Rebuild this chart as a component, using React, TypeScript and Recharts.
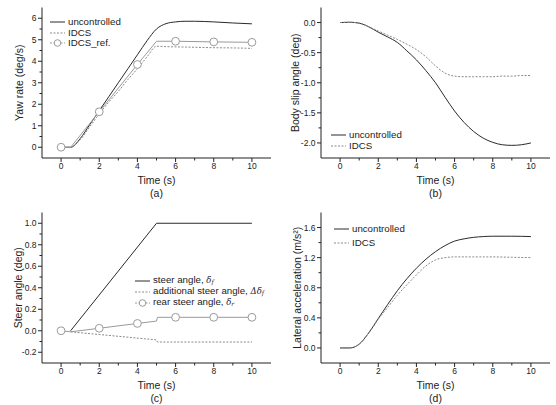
import React from 'react';
import { LineChart, Line, XAxis, YAxis, Label } from 'recharts';

// shared time axis
const timeTicks = [0, 1, 2, 3, 4, 5, 6, 7, 8, 9, 10];
const timeLabels = [0, 2, 4, 6, 8, 10];

// (a) yaw rate
const yawT = [0, 0.5, 1, 1.5, 2, 2.5, 3, 3.5, 4, 4.5, 5, 5.5, 6, 6.5, 7, 8, 9, 10];
const yawUncontrolled = [0, 0, 0.4, 1.05, 1.7, 2.35, 3.0, 3.65, 4.3, 4.95, 5.5, 5.75, 5.83, 5.86, 5.86, 5.83, 5.78, 5.74];
const yawIdcs = [0, 0, 0.35, 0.95, 1.55, 2.1, 2.6, 3.15, 3.65, 4.2, 4.7, 4.68, 4.67, 4.66, 4.65, 4.63, 4.62, 4.6];
const yawRefT = [0, 0.5, 2, 4, 5, 6, 8, 10];
const yawRef = [0, 0, 1.65, 3.85, 4.93, 4.93, 4.9, 4.88];
const yawTicks = [0, 0.5, 1, 1.5, 2, 2.5, 3, 3.5, 4, 4.5, 5, 5.5, 6];
const yawMajor = [0, 1, 2, 3, 4, 5, 6];

// (b) body slip angle
const slipT = [0, 0.5, 1, 1.5, 2, 2.5, 3, 3.5, 4, 4.5, 5, 5.5, 6, 6.5, 7, 7.5, 8, 8.5, 9, 9.5, 10];
const slipUncontrolled = [0, 0.005, -0.01, -0.07, -0.16, -0.24, -0.33, -0.47, -0.62, -0.8, -1.0, -1.24, -1.47, -1.66, -1.81, -1.92, -1.99, -2.03, -2.04, -2.03, -2.0];
const slipIdcs = [0, 0.005, -0.01, -0.07, -0.14, -0.21, -0.28, -0.36, -0.45, -0.57, -0.72, -0.84, -0.89, -0.9, -0.9, -0.9, -0.9, -0.89, -0.89, -0.88, -0.88];
const slipTicks = [-2, -1.75, -1.5, -1.25, -1, -0.75, -0.5, -0.25, 0];
const slipMajor = [-2, -1.5, -1, -0.5, 0];

// (c) steer angles
const steerT = [0.5, 5, 10];
const steerFront = [0, 1, 1];
const addT = [0.5, 5, 5.05, 10];
const addSteer = [-0.01, -0.085, -0.105, -0.105];
const rearT = [0, 0.5, 2, 4, 5, 5.05, 6, 8, 10];
const rearSteer = [0, -0.01, 0.023, 0.068, 0.09, 0.125, 0.125, 0.125, 0.125];
const steerTicks = [-0.2, -0.1, 0, 0.1, 0.2, 0.3, 0.4, 0.5, 0.6, 0.7, 0.8, 0.9, 1.0];
const steerMajor = [-0.2, 0, 0.2, 0.4, 0.6, 0.8, 1.0];

// (d) lateral acceleration
const latT = [0, 0.5, 1, 1.5, 2, 2.5, 3, 3.5, 4, 4.5, 5, 5.5, 6, 6.5, 7, 7.5, 8, 9, 10];
const latUncontrolled = [0, 0, 0.05, 0.2, 0.39, 0.58, 0.76, 0.92, 1.06, 1.18, 1.28, 1.36, 1.42, 1.45, 1.47, 1.48, 1.485, 1.485, 1.48];
const latIdcs = [0, 0, 0.05, 0.2, 0.38, 0.54, 0.7, 0.84, 0.97, 1.09, 1.17, 1.2, 1.21, 1.21, 1.21, 1.21, 1.21, 1.205, 1.2];
const latTicks = [0, 0.2, 0.4, 0.6, 0.8, 1.0, 1.2, 1.4, 1.6];
const latMajor = [0, 0.4, 0.8, 1.2, 1.6];

const FONT = '"Liberation Sans", Arial, sans-serif';
const INK = '#222';
const DARK = '#2a2a2a';
const DASH_C = '#8a8a8a';
const REF_C = '#9a9a9a';

const rows = (t: number[], v: number[]) => t.map((x, i) => ({ t: x, v: v[i] }));
const near = (list: number[], v: number) => list.some((m) => Math.abs(m - v) < 1e-6);

const xTick = (props: any) => {
  const { x, y, payload } = props;
  const major = near(timeLabels, payload.value);
  return (
    <g>
      <line x1={x} x2={x} y1={y} y2={y + (major ? 4 : 2.5)} stroke={INK} />
      {major && (
        <text x={x} y={y + 10.8} textAnchor="middle" fontSize={8.5} fill={INK} fontFamily={FONT}>
          {payload.value}
        </text>
      )}
    </g>
  );
};

const makeYTick = (majors: number[], fmt: (v: number) => string) => (props: any) => {
  const { x, y, payload } = props;
  const major = near(majors, payload.value);
  return (
    <g>
      <line x1={x} x2={x - (major ? 4 : 2.5)} y1={y} y2={y} stroke={INK} />
      {major && (
        <text x={x - 5.5} y={y + 3} textAnchor="end" fontSize={8.5} fill={INK} fontFamily={FONT}>
          {fmt(payload.value)}
        </text>
      )}
    </g>
  );
};

const markerDot = (p: any) => {
  const t = p.payload.t;
  if (Number.isInteger(t) && t % 2 === 0) {
    return <circle key={p.index} cx={p.cx} cy={p.cy} r={3.9} fill="#fff" stroke={REF_C} strokeWidth={1} />;
  }
  return <g key={p.index} />;
};

type Series = {
  data: { t: number; v: number }[];
  stroke: string;
  dash?: string;
  curve: 'linear' | 'monotone';
  markers?: boolean;
};

type LegendItem = { kind: 'solid' | 'dash' | 'marker'; label: React.ReactNode };

function Sample({ kind }: { kind: LegendItem['kind'] }) {
  return (
    <svg width={15} height={8} style={{ marginRight: 3, flex: 'none' }}>
      {kind === 'solid' && <line x1={0} x2={15} y1={4} y2={4} stroke={DARK} />}
      {kind === 'dash' && <line x1={0} x2={15} y1={4} y2={4} stroke={DASH_C} strokeDasharray="2 1.5" />}
      {kind === 'marker' && (
        <>
          <line x1={0} x2={15} y1={4} y2={4} stroke={REF_C} strokeDasharray="2 1.5" />
          <circle cx={7.5} cy={4} r={3.3} fill="#fff" stroke={REF_C} />
        </>
      )}
    </svg>
  );
}

function Panel(props: {
  left: number;
  top: number;
  yAxisWidth: number;
  labelX: number;
  yDomain: [number, number];
  yTicks: number[];
  yMajor: number[];
  yFmt: (v: number) => string;
  yLabel: React.ReactNode;
  caption: string;
  series: Series[];
  legend: LegendItem[];
  legendPos: { x: number; y: number; gap: number };
}) {
  const { left, top, yAxisWidth, labelX, yDomain, yTicks, yMajor, yFmt, yLabel, caption, series, legend, legendPos } = props;
  return (
    <div style={{ position: 'absolute', left, top, width: 278, height: 200 }}>
      <LineChart width={278} height={200} margin={{ top: 7.5, right: 278 - yAxisWidth - 229, left: 0, bottom: 0 }}>
        <XAxis
          dataKey="t"
          type="number"
          domain={[-1, 11]}
          ticks={timeTicks}
          interval={0}
          allowDataOverflow
          height={42}
          tickSize={0}
          tickMargin={0}
          tickLine={false}
          axisLine={{ stroke: INK }}
          tick={xTick}
        >
          <Label
            content={(lp: any) => {
              const vb = lp.viewBox;
              const cx = vb.x + vb.width / 2;
              return (
                <g fontFamily={FONT} fill={INK}>
                  <text x={cx} y={vb.y + 25.5} textAnchor="middle" fontSize={10.5}>Time (s)</text>
                  <text x={cx} y={vb.y + 39} textAnchor="middle" fontSize={10.5}>{caption}</text>
                </g>
              );
            }}
          />
        </XAxis>
        <XAxis
          xAxisId="top"
          orientation="top"
          type="number"
          domain={[-1, 11]}
          height={0}
          tick={false}
          tickLine={false}
          axisLine={{ stroke: '#555' }}
        />
        <YAxis
          type="number"
          domain={yDomain}
          ticks={yTicks}
          interval={0}
          allowDataOverflow
          width={yAxisWidth}
          tickSize={0}
          tickMargin={0}
          tickLine={false}
          axisLine={{ stroke: INK }}
          tick={makeYTick(yMajor, yFmt)}
        >
          <Label
            content={(lp: any) => {
              const vb = lp.viewBox;
              const cy = vb.y + vb.height / 2;
              return (
                <text
                  transform={`translate(${labelX},${cy}) rotate(-90)`}
                  dy={3.8}
                  textAnchor="middle"
                  fontSize={10.5}
                  fontFamily={FONT}
                  fill={INK}
                >
                  {yLabel}
                </text>
              );
            }}
          />
        </YAxis>
        <YAxis
          yAxisId="right"
          orientation="right"
          type="number"
          domain={yDomain}
          width={0}
          tick={false}
          tickLine={false}
          axisLine={{ stroke: '#8c8c8c', strokeWidth: 1.6 }}
        />
        {series.map((s, i) => (
          <Line
            key={i}
            data={s.data}
            dataKey="v"
            type={s.curve}
            stroke={s.stroke}
            strokeWidth={1}
            strokeDasharray={s.dash}
            dot={s.markers ? markerDot : false}
            activeDot={false}
            isAnimationActive={false}
          />
        ))}
      </LineChart>
      <div
        style={{
          position: 'absolute',
          left: legendPos.x,
          top: legendPos.y,
          fontFamily: FONT,
          fontSize: 9.7,
          color: INK,
          lineHeight: `${legendPos.gap}px`,
          whiteSpace: 'nowrap',
        }}
      >
        {legend.map((l, i) => (
          <div key={i} style={{ display: 'flex', alignItems: 'center', height: legendPos.gap }}>
            <Sample kind={l.kind} />
            <span>{l.label}</span>
          </div>
        ))}
      </div>
    </div>
  );
}

const delta = (sub: string, prefix = '') => (
  <span style={{ fontStyle: 'italic', fontFamily: '"DejaVu Serif", serif', fontSize: 8.5 }}>
    {prefix}δ<span style={{ fontSize: 6, verticalAlign: -1 }}>{sub}</span>
  </span>
);

export default function App() {
  return (
    <div style={{ position: 'absolute', left: 0, top: 0, width: 556, height: 405, background: '#fff' }}>
      <Panel
        left={0}
        top={0}
        yAxisWidth={42}
        labelX={19.5}
        yDomain={[-0.5, 6.5]}
        yTicks={yawTicks}
        yMajor={yawMajor}
        yFmt={(v) => String(v)}
        yLabel="Yaw rate (deg/s)"
        caption="(a)"
        series={[
          { data: rows(yawT, yawUncontrolled), stroke: DARK, curve: 'monotone' },
          { data: rows(yawT, yawIdcs), stroke: DASH_C, dash: '2 1.5', curve: 'monotone' },
          { data: rows(yawRefT, yawRef), stroke: REF_C, curve: 'linear', markers: true },
        ]}
        legend={[
          { kind: 'solid', label: 'uncontrolled' },
          { kind: 'dash', label: 'IDCS' },
          { kind: 'marker', label: 'IDCS_ref.' },
        ]}
        legendPos={{ x: 50, y: 17, gap: 10.5 }}
      />
      <Panel
        left={278}
        top={0}
        yAxisWidth={43}
        labelX={17}
        yDomain={[-2.25, 0.25]}
        yTicks={slipTicks}
        yMajor={slipMajor}
        yFmt={(v) => v.toFixed(1)}
        yLabel="Body slip angle (deg)"
        caption="(b)"
        series={[
          { data: rows(slipT, slipUncontrolled), stroke: DARK, curve: 'monotone' },
          { data: rows(slipT, slipIdcs), stroke: DASH_C, dash: '2 1.5', curve: 'monotone' },
        ]}
        legend={[
          { kind: 'solid', label: 'uncontrolled' },
          { kind: 'dash', label: 'IDCS' },
        ]}
        legendPos={{ x: 53, y: 129, gap: 11.3 }}
      />
      <Panel
        left={0}
        top={205}
        yAxisWidth={42}
        labelX={18}
        yDomain={[-0.3, 1.1]}
        yTicks={steerTicks}
        yMajor={steerMajor}
        yFmt={(v) => v.toFixed(1)}
        yLabel="Steer angle (deg)"
        caption="(c)"
        series={[
          { data: rows(steerT, steerFront), stroke: DARK, curve: 'linear' },
          { data: rows(addT, addSteer), stroke: DASH_C, dash: '2 1.5', curve: 'linear' },
          { data: rows(rearT, rearSteer), stroke: REF_C, curve: 'linear', markers: true },
        ]}
        legend={[
          { kind: 'solid', label: <>steer angle, {delta('f')}</> },
          { kind: 'dash', label: <>additional steer angle, {delta('f', 'Δ')}</> },
          { kind: 'marker', label: <>rear steer angle, {delta('r')}</> },
        ]}
        legendPos={{ x: 135, y: 71, gap: 10.8 }}
      />
      <Panel
        left={278}
        top={205}
        yAxisWidth={43}
        labelX={19}
        yDomain={[-0.2, 1.8]}
        yTicks={latTicks}
        yMajor={latMajor}
        yFmt={(v) => v.toFixed(1)}
        yLabel="Lateral acceleration (m/s²)"
        caption="(d)"
        series={[
          { data: rows(latT, latUncontrolled), stroke: DARK, curve: 'monotone' },
          { data: rows(latT, latIdcs), stroke: DASH_C, dash: '2 1.5', curve: 'monotone' },
        ]}
        legend={[
          { kind: 'solid', label: 'uncontrolled' },
          { kind: 'dash', label: 'IDCS' },
        ]}
        legendPos={{ x: 56, y: 16.5, gap: 14 }}
      />
    </div>
  );
}
